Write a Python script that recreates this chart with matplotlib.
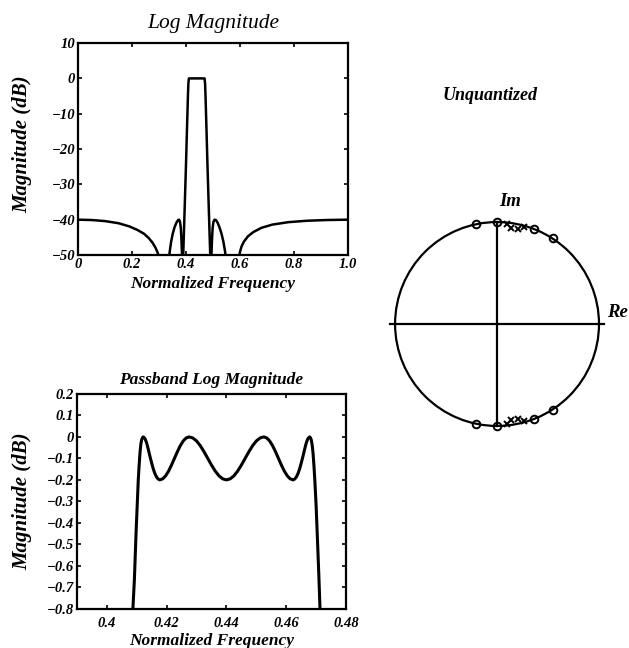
import matplotlib
matplotlib.use("Agg")
import matplotlib.pyplot as plt
from matplotlib.patches import Circle

plt.rcParams["font.family"] = ["Liberation Serif", "DejaVu Serif"]

# ── Data ───────────────────────────────────────────────────────────────────────

# full-band log magnitude, dB (values below -50 fall outside the axes)
lm_freq = [0.0, 0.05, 0.10, 0.15, 0.19, 0.22, 0.245, 0.262, 0.276, 0.287, 0.295, 0.301, 0.306,
           0.33, 0.336, 0.340, 0.345, 0.351, 0.358, 0.365, 0.371, 0.375, 0.378, 0.381, 0.383, 0.385, 0.387,
           0.389, 0.392, 0.396, 0.400, 0.404, 0.407, 0.409, 0.411, 0.44, 0.469, 0.471, 0.473, 0.476,
           0.480, 0.484, 0.488, 0.491,
           0.493, 0.495, 0.497, 0.499, 0.502, 0.506, 0.511, 0.517, 0.524, 0.532, 0.539, 0.545, 0.550, 0.555,
           0.59, 0.596, 0.600, 0.606, 0.615, 0.63, 0.65, 0.68, 0.72, 0.78, 0.85, 0.92, 1.0]
lm_db = [-40.0, -40.1, -40.4, -41.0, -41.9, -42.9, -44.0, -45.2, -46.5, -47.9, -49.3, -50.8, -53.0,
         -60.0, -52.0, -49.0, -46.3, -44.0, -42.1, -40.8, -40.1, -40.0, -40.6, -42.3, -45.0, -49.0, -55.0,
         -52.0, -45.0, -35.0, -25.0, -14.0, -6.0, -1.5, 0.0, 0.0, 0.0, -1.5, -6.0, -14.0,
         -25.0, -35.0, -45.0, -52.0,
         -55.0, -49.0, -45.0, -42.3, -40.6, -40.0, -40.1, -40.8, -42.1, -44.0, -46.3, -49.0, -52.0, -60.0,
         -60.0, -52.0, -49.2, -47.6, -46.2, -44.7, -43.5, -42.3, -41.4, -40.7, -40.3, -40.1, -40.0]

lm_xticks = [0.0, 0.2, 0.4, 0.6, 0.8, 1.0]
lm_xlabels = ["0", "0.2", "0.4", "0.6", "0.8", "1.0"]
lm_yticks = [10, 0, -10, -20, -30, -40, -50]
lm_ylabels = ["10", "0", "\u221210", "\u221220", "\u221230", "\u221240", "\u221250"]

# passband detail, dB
pb_freq = [0.4080, 0.4087, 0.4092, 0.4098, 0.4102, 0.4105, 0.4108, 0.4111, 0.4114, 0.4117, 0.4120, 0.4122,
           0.41275, 0.4133, 0.41385, 0.4144, 0.41495, 0.4155, 0.41605, 0.4166, 0.41715, 0.4177,
           0.41868, 0.41966, 0.42064, 0.42162, 0.4226, 0.42358, 0.42456, 0.42554, 0.42652, 0.4275,
           0.42875, 0.4300, 0.43125, 0.4325, 0.43375, 0.4350, 0.43625, 0.4375, 0.43875, 0.4400,
           0.44125, 0.4425, 0.44375, 0.4450, 0.44625, 0.4475, 0.44875, 0.4500, 0.45125, 0.4525,
           0.45348, 0.45446, 0.45544, 0.45642, 0.4574, 0.45838, 0.45936, 0.46034, 0.46132, 0.4623,
           0.46285, 0.4634, 0.46395, 0.4645, 0.46505, 0.4656, 0.46615, 0.4667, 0.46725, 0.4678,
           0.4681, 0.4684, 0.4687, 0.4690, 0.4693, 0.4696, 0.4700, 0.4704, 0.4709, 0.4713, 0.4720]
pb_db = [-1.0, -0.8, -0.664, -0.432, -0.30, -0.20, -0.13, -0.07, -0.03, -0.01, -0.002, 0.0,
         -0.008, -0.028, -0.058, -0.090, -0.120, -0.148, -0.170, -0.186, -0.196, -0.200,
         -0.195, -0.181, -0.159, -0.131, -0.100, -0.069, -0.041, -0.019, -0.005, 0.0,
         -0.005, -0.019, -0.041, -0.069, -0.100, -0.131, -0.159, -0.181, -0.195, -0.200,
         -0.195, -0.181, -0.159, -0.131, -0.100, -0.069, -0.041, -0.019, -0.005, 0.0,
         -0.005, -0.019, -0.041, -0.069, -0.100, -0.131, -0.159, -0.181, -0.195, -0.200,
         -0.196, -0.186, -0.170, -0.148, -0.120, -0.090, -0.058, -0.028, -0.008, 0.0,
         -0.004, -0.015, -0.04, -0.08, -0.14, -0.21, -0.32, -0.46, -0.64, -0.8, -1.0]

pb_xticks = [0.40, 0.42, 0.44, 0.46, 0.48]
pb_xlabels = ["0.4", "0.42", "0.44", "0.46", "0.48"]
pb_yticks = [0.2, 0.1, 0.0, -0.1, -0.2, -0.3, -0.4, -0.5, -0.6, -0.7, -0.8]
pb_ylabels = ["0.2", "0.1", "0", "\u22120.1", "\u22120.2", "\u22120.3", "\u22120.4",
              "\u22120.5", "\u22120.6", "\u22120.7", "\u22120.8"]

# pole / zero locations (upper half; lower half is the conjugate)
zero_re = [-0.208, 0.0, 0.358, 0.545]
zero_im = [0.978, 1.0, 0.934, 0.839]
pole_re = [0.094, 0.141, 0.207, 0.263]
pole_im = [0.980, 0.944, 0.932, 0.949]

# ── Style ──────────────────────────────────────────────────────────────────────

LABEL_FONT = dict(style="italic", weight="bold")


def style_axes(ax, xpad=2):
    for spine in ax.spines.values():
        spine.set_linewidth(1.6)
    ax.tick_params(direction="in", top=True, right=True, length=3, width=1.2, pad=2)
    ax.tick_params(axis="x", pad=xpad)
    for lab in ax.get_xticklabels() + ax.get_yticklabels():
        lab.set_fontstyle("italic")
        lab.set_fontweight("bold")
        lab.set_fontsize(10.5)


fig = plt.figure(figsize=(6.29, 6.48), dpi=100)

# ── Log magnitude ──────────────────────────────────────────────────────────────

ax1 = fig.add_axes([0.124, 0.6065, 0.429, 0.327])
ax1.plot(lm_freq, lm_db, color="black", linewidth=1.8)
ax1.set_xlim(0, 1)
ax1.set_ylim(-50, 10)
ax1.set_xticks(lm_xticks, labels=lm_xlabels)
ax1.set_yticks(lm_yticks, labels=lm_ylabels)
style_axes(ax1)
ax1.set_title("Log Magnitude", style="italic", size=15.5, pad=11)
ax1.set_xlabel("Normalized Frequency", size=12.5, labelpad=4, **LABEL_FONT)
ax1.set_ylabel("Magnitude (dB)", size=15, **LABEL_FONT)
ax1.yaxis.set_label_coords(-0.17, 0.524)

# ── Passband ───────────────────────────────────────────────────────────────────

ax2 = fig.add_axes([0.1224, 0.0602, 0.4277, 0.332])
ax2.plot(pb_freq, pb_db, color="black", linewidth=2.2)
ax2.set_xlim(0.39, 0.48)
ax2.set_ylim(-0.8, 0.2)
ax2.set_xticks(pb_xticks, labels=pb_xlabels)
ax2.set_yticks(pb_yticks, labels=pb_ylabels)
style_axes(ax2, xpad=6)
ax2.set_title("Passband Log Magnitude", size=12.5, pad=7, **LABEL_FONT)
ax2.set_xlabel("Normalized Frequency", size=12.5, labelpad=2, **LABEL_FONT)
ax2.set_ylabel("Magnitude (dB)", size=15, **LABEL_FONT)
ax2.yaxis.set_label_coords(-0.167, 0.5)

# ── Pole / zero plot ───────────────────────────────────────────────────────────

ax3 = fig.add_axes([0.5835, 0.2994, 0.4134, 0.4012])
ax3.set_xlim(-1.275, 1.275)
ax3.set_ylim(-1.275, 1.275)
ax3.set_aspect("equal")
ax3.axis("off")
ax3.add_patch(Circle((0, 0), 1.0, fill=False, color="black", linewidth=1.6))
ax3.plot([-1.05, 1.05], [0, 0], color="black", linewidth=1.6)
ax3.plot([0, 0], [-1.0, 1.0], color="black", linewidth=1.6)
zi_lower = [-v for v in zero_im]
pi_lower = [-v for v in pole_im]
for im in (zero_im, zi_lower):
    ax3.plot(zero_re, im, linestyle="none", marker="o", markersize=5.5,
             markerfacecolor="none", markeredgecolor="black", markeredgewidth=1.4)
for im in (pole_im, pi_lower):
    ax3.plot(pole_re, im, linestyle="none", marker="x", markersize=5,
             color="black", markeredgewidth=1.4)
ax3.text(0.13, 1.2, "Im", ha="center", va="center", size=13.5, **LABEL_FONT)
ax3.text(1.18, 0.11, "Re", ha="center", va="center", size=13.5, **LABEL_FONT)

fig.text(0.779, 0.853, "Unquantized", ha="center", va="center", size=13, **LABEL_FONT)

fig.savefig("out.png", dpi=100, facecolor="white")
